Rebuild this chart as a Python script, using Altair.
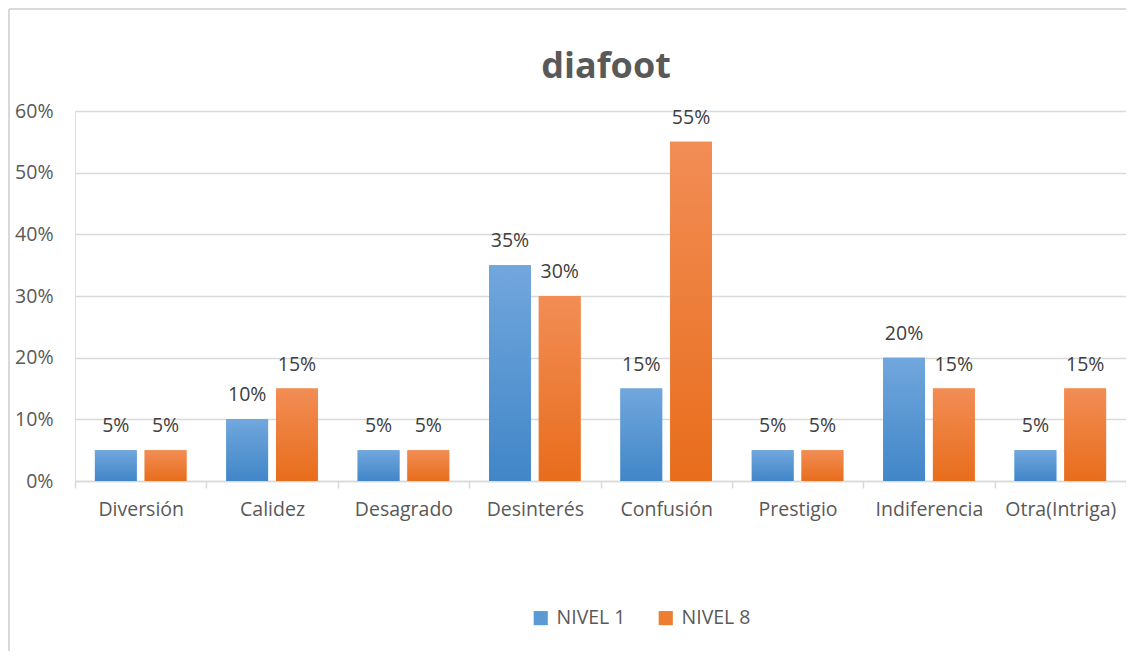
import altair as alt
import pandas as pd

categories = ["Diversión", "Calidez", "Desagrado", "Desinterés", "Confusión",
              "Prestigio", "Indiferencia", "Otra(Intriga)"]
series = ["NIVEL 1", "NIVEL 8"]
nivel1 = [0.05, 0.10, 0.05, 0.35, 0.15, 0.05, 0.20, 0.05]
nivel8 = [0.05, 0.15, 0.05, 0.30, 0.55, 0.05, 0.15, 0.15]
y_ticks = [0, 0.1, 0.2, 0.3, 0.4, 0.5, 0.6]
title_text = "diafoot"

rows = []
for c, a, b in zip(categories, nivel1, nivel8):
    rows.append({"cat": c, "serie": series[0], "val": a})
    rows.append({"cat": c, "serie": series[1], "val": b})
df = pd.DataFrame(rows)

FONT = "Open Sans"
GREY = "#595959"
LINE = "#d9d9d9"
FS = 19.5

x_enc = alt.X("cat:N", sort=categories,
              scale=alt.Scale(paddingInner=0, paddingOuter=0),
              axis=alt.Axis(title=None, labelAngle=0, labelFontSize=FS, labelColor=GREY,
                            labelFont=FONT, domainColor=LINE, domainWidth=1.5,
                            tickColor=LINE, tickWidth=1.5, tickSize=7, tickBand="extent",
                            labelPadding=12, grid=False))
xo_enc = alt.XOffset("serie:N", sort=series,
                     scale=alt.Scale(paddingInner=0.16, paddingOuter=0.4))
y_enc = alt.Y("val:Q", scale=alt.Scale(domain=[0, 0.6], nice=False),
              axis=alt.Axis(title=None, format=".0%", values=y_ticks, domain=False,
                            ticks=False, gridColor=LINE, gridWidth=1.5,
                            labelFontSize=FS, labelColor=GREY, labelFont=FONT,
                            labelPadding=22))

base = alt.Chart(df)

bars = base.mark_bar().encode(
    x=x_enc, xOffset=xo_enc, y=y_enc,
    color=alt.Color("serie:N", sort=series,
                    scale=alt.Scale(domain=series, range=["#5b9bd5", "#ed7d31"]),
                    legend=alt.Legend(title=None, orient="none", direction="horizontal",
                                      legendX=456, legendY=497, symbolType="square",
                                      symbolSize=200, symbolStrokeWidth=0,
                                      labelFontSize=FS, labelColor=GREY, labelFont=FONT,
                                      columnPadding=30, labelOffset=6)),
)

def grad(top, bottom):
    return alt.Gradient(gradient="linear", x1=0, y1=0, x2=0, y2=1,
                        stops=[alt.GradientStop(color=top, offset=0),
                               alt.GradientStop(color=bottom, offset=1)])

g1 = base.transform_filter(alt.datum.serie == series[0]).mark_bar(
    color=grad("#71a7dd", "#4186c8")).encode(x=x_enc, xOffset=xo_enc, y=y_enc)
g8 = base.transform_filter(alt.datum.serie == series[1]).mark_bar(
    color=grad("#f28d55", "#e86d1c")).encode(x=x_enc, xOffset=xo_enc, y=y_enc)

labels = base.mark_text(baseline="bottom", dy=-14, fontSize=FS, font=FONT,
                        color="#404040").encode(
    x=x_enc, xOffset=xo_enc, y=y_enc,
    text=alt.Text("val:Q", format=".0%"))

one = pd.DataFrame({"t": [title_text]})
frame_left = alt.Chart(one).mark_rule(color=LINE, strokeWidth=2).encode(
    x=alt.value(-66), y=alt.value(-102), y2=alt.value(600))
frame_top = alt.Chart(one).mark_rule(color=LINE, strokeWidth=2).encode(
    x=alt.value(-66), x2=alt.value(1100), y=alt.value(-102))
title = alt.Chart(one).mark_text(fontSize=36, fontWeight="bold", color=GREY, font=FONT,
                                 baseline="alphabetic", align="center").encode(
    x=alt.value(531), y=alt.value(-33), text="t:N")

chart = alt.layer(frame_left, frame_top, bars, g1, g8, labels, title).properties(
    width=1051, height=370,
    autosize=alt.AutoSizeParams(type="none"),
    padding={"left": 67, "top": 103, "right": 0, "bottom": 170},
).configure_view(stroke=None).configure(background="transparent")

chart.save("out.html", embed_options={"renderer": "svg", "actions": False})
